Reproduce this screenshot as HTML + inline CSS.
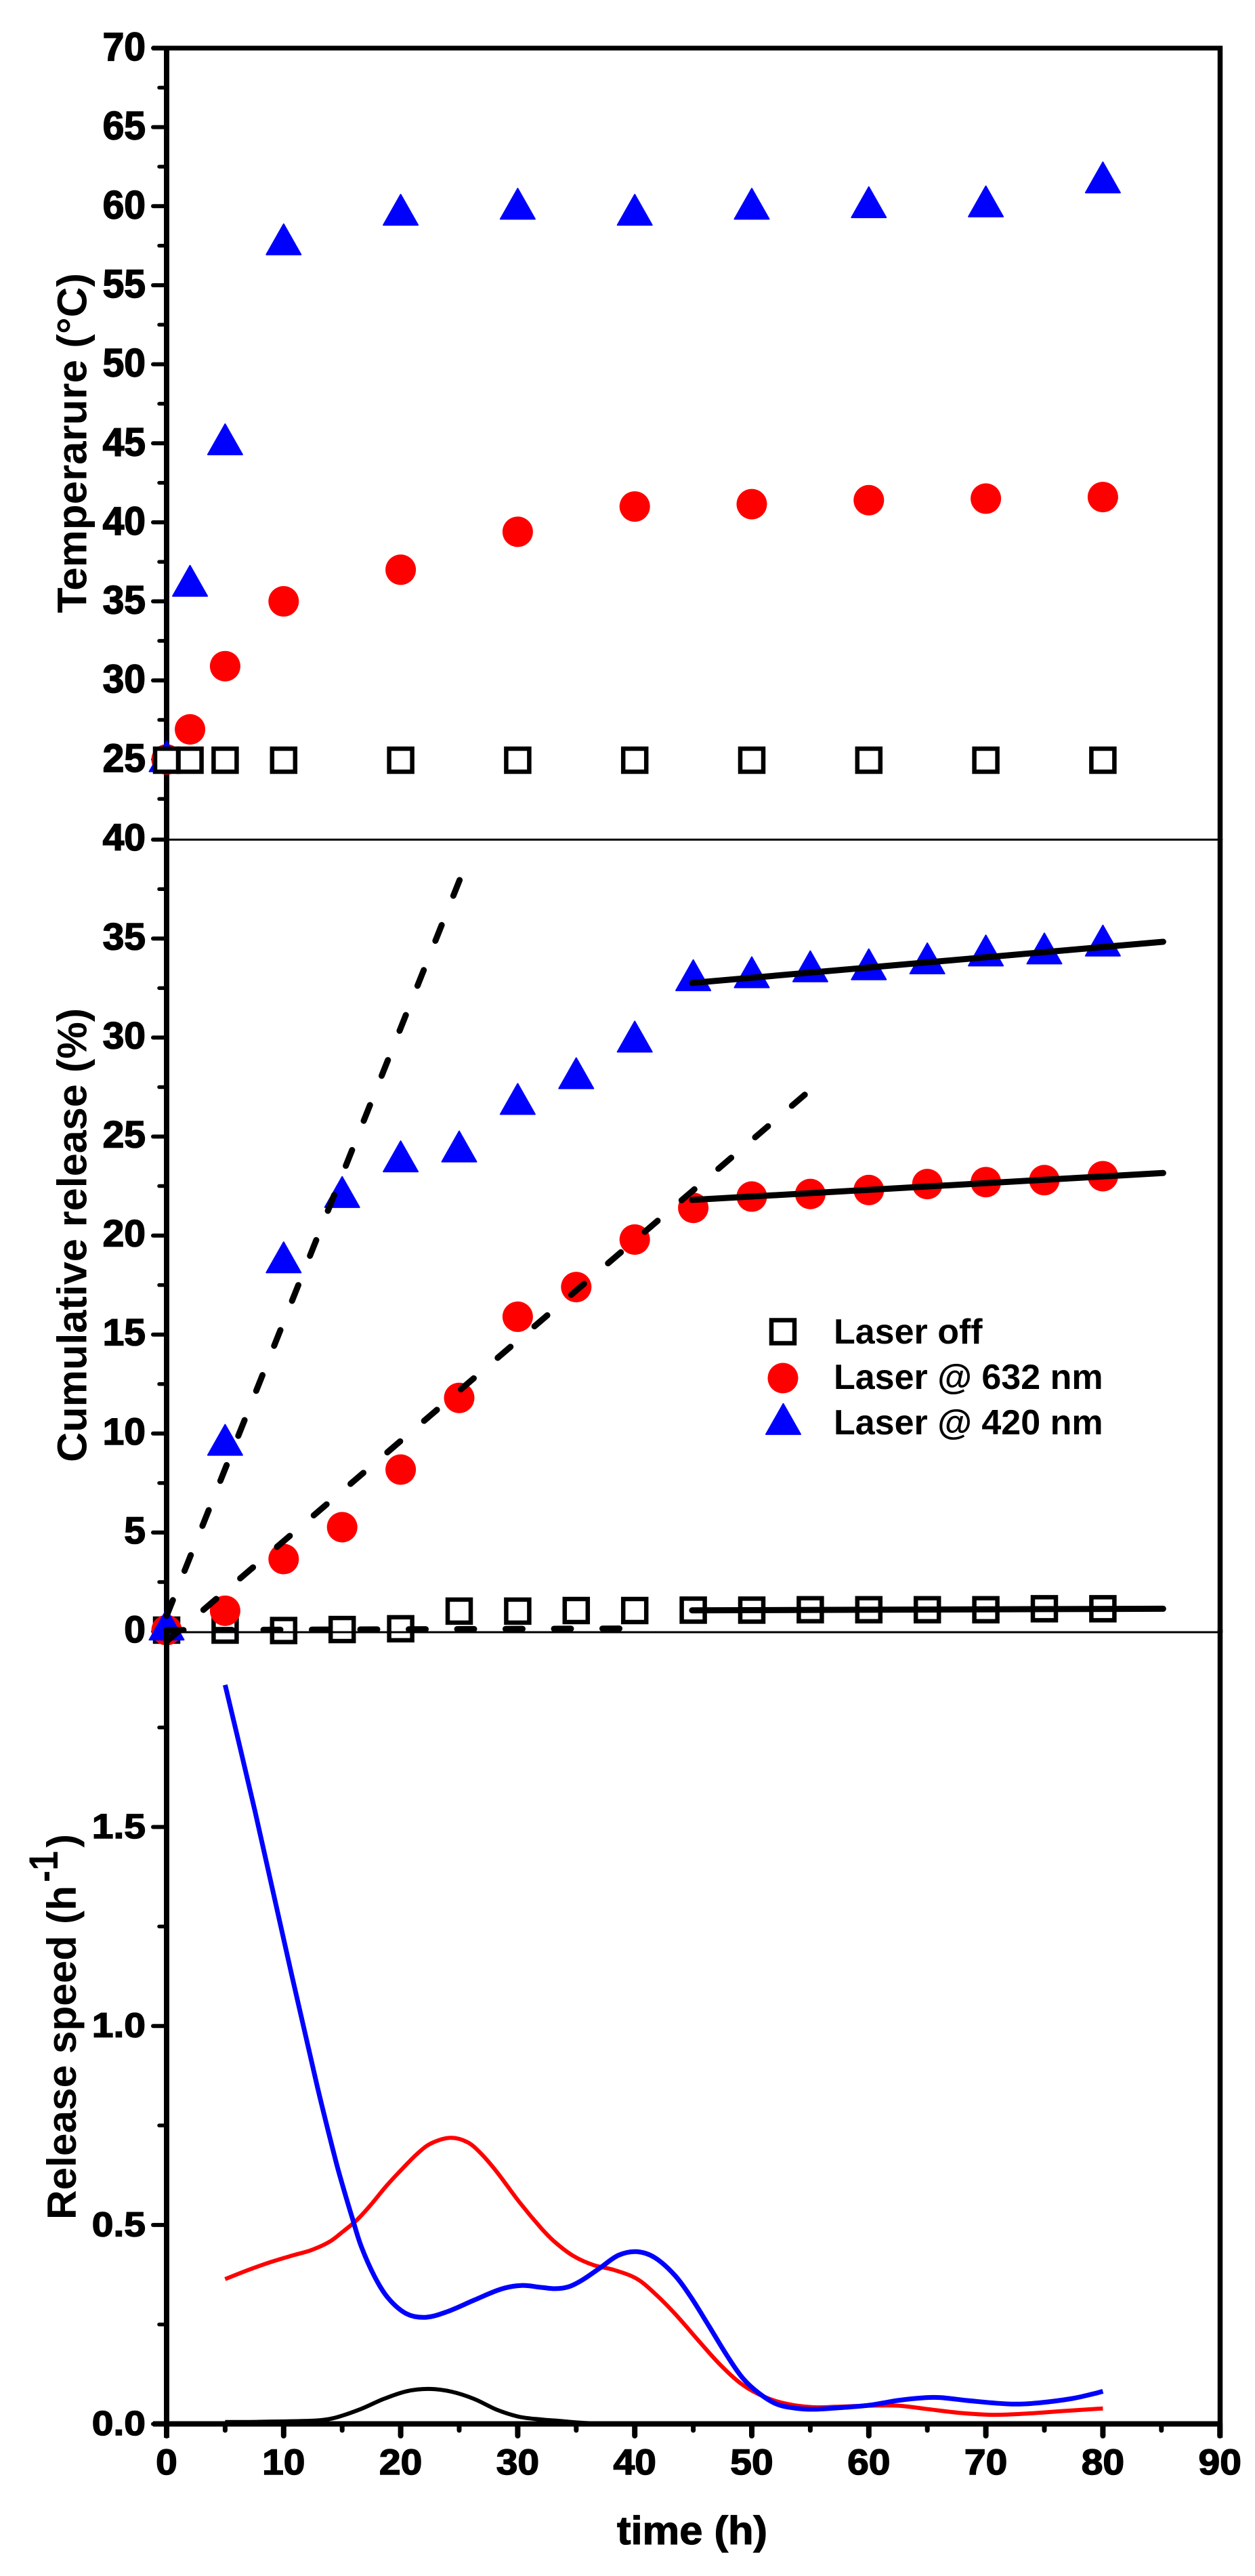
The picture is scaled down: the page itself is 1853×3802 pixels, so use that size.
<!DOCTYPE html>
<html lang="en">
<head>
<meta charset="utf-8">
<title>Temperature and release over time</title>
<style>
  html, body { margin: 0; padding: 0; background: #fff; }
  svg { display: block; }
  text { font-family: "Liberation Sans", Arial, sans-serif; font-weight: bold; fill: #000; }
</style>
</head>
<body>
<svg id="chart" xmlns="http://www.w3.org/2000/svg" width="1853" height="3802" viewBox="0 0 1853 3802">
  <rect x="0" y="0" width="1853" height="3802" fill="#fff"/>
  <text transform="translate(127.5,905) rotate(-90)" font-size="61" textLength="502" lengthAdjust="spacingAndGlyphs">Temperarure (°C)</text>
  <text transform="translate(127.5,2158) rotate(-90)" font-size="61" textLength="670" lengthAdjust="spacingAndGlyphs">Cumulative release (%)</text>
  <text transform="translate(112,3276) rotate(-90)" font-size="60" textLength="493" lengthAdjust="spacingAndGlyphs">Release speed (h</text>
  <text transform="translate(85,2778) rotate(-90)" font-size="60" textLength="46" lengthAdjust="spacingAndGlyphs">-1</text>
  <text transform="translate(112,2727) rotate(-90)" font-size="60" textLength="20" lengthAdjust="spacingAndGlyphs">)</text>
  <text x="911" y="3755" font-size="58" textLength="222" lengthAdjust="spacingAndGlyphs" stroke="#000" stroke-width="1.2">time (h)</text>
  <g id="panel-top"></g>
  <g id="panel-mid"></g>
  <g id="legend"></g>
  <g id="panel-bot"></g>
</svg>
<script>
// ---------- tick labels ----------
var xTickValues = [0, 10, 20, 30, 40, 50, 60, 70, 80, 90];
var xMinorValues = [5, 15, 25, 35, 45, 55, 65, 75, 85];
var tempTicks = [25, 30, 35, 40, 45, 50, 55, 60, 65, 70];
var tempMinor = [22.5, 27.5, 32.5, 37.5, 42.5, 47.5, 52.5, 57.5, 62.5, 67.5];
var cumTicks = [0, 5, 10, 15, 20, 25, 30, 35, 40];
var cumMinor = [2.5, 7.5, 12.5, 17.5, 22.5, 27.5, 32.5, 37.5];
var speedTicks = [0, 0.5, 1, 1.5];
var speedMinor = [0.25, 0.75, 1.25, 1.75];

// ---------- temperature panel ----------
var tempTimes = [0, 2, 5, 10, 20, 30, 40, 50, 60, 70, 80];
var tempLaserOff = [24.95, 24.95, 24.95, 24.95, 24.95, 24.95, 24.95, 24.95, 24.95, 24.95, 24.95];
var temp632 = [25, 26.9, 30.9, 35, 37, 39.4, 41, 41.15, 41.4, 41.5, 41.6];
var temp420 = [25.2, 36.3, 45.25, 57.9, 59.77, 60.15, 59.77, 60.15, 60.25, 60.3, 61.82];

// ---------- cumulative release panel ----------
var cumTimes = [0, 5, 10, 15, 20, 25, 30, 35, 40, 45, 50, 55, 60, 65, 70, 75, 80];
var cumLaserOff = [0.07, 0.07, 0.05, 0.1, 0.14, 1.03, 1.03, 1.06, 1.06, 1.08, 1.08, 1.1, 1.1, 1.1, 1.1, 1.15, 1.15];
var cum632 = [0.07, 1.05, 3.66, 5.27, 8.18, 11.8, 15.9, 17.4, 19.8, 21.4, 21.97, 22.1, 22.3, 22.6, 22.7, 22.8, 23];
var cum420 = [0.35, 9.68, 18.9, 22.2, 24, 24.5, 26.9, 28.2, 30.05, 33.15, 33.3, 33.6, 33.7, 34, 34.4, 34.5, 34.9];

var dashFitOffT = [0, 38.8];
var dashFitOffV = [0.07, 0.15];
var dashFit632T = [0, 54.7];
var dashFit632V = [-0.5, 27.2];
var dashFit420T = [0, 25.13];
var dashFit420V = [0.79, 38.1];
var solidFitT = [44.9, 85.15];
var solidFitOffV = [1.07, 1.15];
var solidFit632V = [21.8, 23.16];
var solidFit420V = [32.76, 34.84];

// ---------- release speed panel ----------
var speed420T = [5, 7.56, 10.75, 12.86, 14.51, 15.28, 15.86, 16.63, 17.78, 18.94, 20.49, 22.12, 23.96, 26.27, 28.59, 30.32, 32.06, 33.22, 34.38, 35.53, 37.08, 38.62, 40.16, 41.71, 43.44, 44.79, 46.34, 47.88, 49.23, 50.58, 52.12, 53.65, 55.2, 57.1, 60, 62.5, 64.85, 66.2, 68.7, 72.2, 74.5, 77.4, 79.5, 80];
var speed420V = [1.857, 1.539, 1.12, 0.85, 0.655, 0.575, 0.518, 0.446, 0.37, 0.316, 0.277, 0.268, 0.282, 0.311, 0.339, 0.348, 0.343, 0.34, 0.345, 0.362, 0.393, 0.424, 0.433, 0.418, 0.373, 0.319, 0.246, 0.172, 0.115, 0.078, 0.05, 0.04, 0.037, 0.04, 0.047, 0.059, 0.066, 0.066, 0.058, 0.05, 0.053, 0.064, 0.078, 0.082];
var speed632T = [5, 6.98, 8.91, 10.84, 12.38, 13.93, 15.09, 16.24, 17.4, 18.75, 20.1, 21.45, 22.6, 24.25, 25.7, 26.85, 28.2, 30.13, 32.06, 33.22, 34.76, 36.5, 38.23, 40.16, 41.71, 43.44, 45.37, 47.3, 49.23, 51.16, 53.08, 55.2, 57.1, 60, 62.5, 64.85, 67.75, 70.65, 73.5, 76.4, 79.5, 80];
var speed632V = [0.364, 0.387, 0.407, 0.424, 0.437, 0.458, 0.484, 0.512, 0.549, 0.597, 0.64, 0.68, 0.705, 0.719, 0.708, 0.68, 0.634, 0.558, 0.49, 0.456, 0.422, 0.399, 0.387, 0.365, 0.328, 0.277, 0.212, 0.149, 0.098, 0.067, 0.05, 0.042, 0.043, 0.046, 0.046, 0.038, 0.028, 0.023, 0.026, 0.032, 0.038, 0.039];
var speedOffT = [5, 7, 12.4, 13.6, 14.7, 16.63, 18.56, 20.49, 22.4, 24.35, 26.27, 28.2, 30.13, 32.06, 33.4, 36, 40, 50];
var speedOffV = [0.005, 0.005, 0.008, 0.011, 0.018, 0.038, 0.063, 0.082, 0.088, 0.081, 0.063, 0.036, 0.018, 0.011, 0.008, 0.002, 0, 0];

// ---------- legend ----------
var legendLabels = ["Laser off", "Laser @ 632 nm", "Laser @ 420 nm"];

// ---------- axis functions ----------
function xAt(t) { return 246 + 17.28 * t; }
function yTemp(v) { return 71 + (70 - v) * 23.33; }
function yCum(v) { return 2408 - 29.22 * v; }
function ySpeed(v) { return 3577.6 - 587.4 * v; }

var NS = "http://www.w3.org/2000/svg";
function make(tag, attrs, parent) {
  var el = document.createElementNS(NS, tag);
  for (var k in attrs) el.setAttribute(k, attrs[k]);
  parent.appendChild(el);
  return el;
}
function markSquare(parent, x, y) {
  return make("rect", { x: x - 17, y: y - 17, width: 34, height: 34, fill: "#fff", stroke: "#000", "stroke-width": 6.5 }, parent);
}
function markCircle(parent, x, y) {
  return make("circle", { cx: x, cy: y, r: 22.5, fill: "#ff0000" }, parent);
}
function markTriangle(parent, x, y) {
  var w = 51, h = 45;
  var pts = x + "," + (y - h / 2) + " " + (x - w / 2) + "," + (y + h / 2) + " " + (x + w / 2) + "," + (y + h / 2);
  return make("polygon", { points: pts, fill: "#0000ff", stroke: "#0000ff", "stroke-width": 2, "stroke-linejoin": "round" }, parent);
}
function lineEl(parent, x1, y1, x2, y2, w, cap) {
  return make("line", { x1: x1, y1: y1, x2: x2, y2: y2, stroke: "#000", "stroke-width": w, "stroke-linecap": cap || "butt" }, parent);
}
function smoothPath(ts, vs, yFn) {
  var p = ts.map(function (t, i) { return [xAt(t), yFn(vs[i])]; });
  function tangent(i) {
    var a = p[Math.max(i - 1, 0)], c = p[Math.min(i + 1, p.length - 1)];
    var dx = c[0] - a[0], dy = c[1] - a[1], n = Math.sqrt(dx * dx + dy * dy) || 1;
    return [dx / n, dy / n];
  }
  var d = "M" + p[0][0].toFixed(1) + " " + p[0][1].toFixed(1);
  for (var i = 0; i < p.length - 1; i++) {
    var b = p[i], c = p[i + 1];
    var len = Math.sqrt(Math.pow(c[0] - b[0], 2) + Math.pow(c[1] - b[1], 2)) / 3;
    var t0 = tangent(i), t1 = tangent(i + 1);
    d += " C" + (b[0] + t0[0] * len).toFixed(1) + " " + (b[1] + t0[1] * len).toFixed(1) +
         " " + (c[0] - t1[0] * len).toFixed(1) + " " + (c[1] - t1[1] * len).toFixed(1) +
         " " + c[0].toFixed(1) + " " + c[1].toFixed(1);
  }
  return d;
}
function yTicks(parent, majors, minors, yFn, fmt, sy, dy, prefix) {
  minors.forEach(function (v) {
    var m = lineEl(parent, 235, yFn(v), 246, yFn(v), 5.5, "round");
    
    
  });
  majors.forEach(function (v) {
    var y = yFn(v);
    var tick = lineEl(parent, 226, y, 246, y, 6, "round");
    
    
    var label = make("text", { transform: "translate(215," + (y + dy) + ") scale(1," + sy + ")", "font-size": 57, "text-anchor": "end", stroke: "#000", "stroke-width": 1.6 }, parent);
    label.textContent = fmt(v);
    
    
  });
}

// ---------- top panel ----------
var panelTop = document.getElementById("panel-top");
var a1 = lineEl(panelTop, 225, 71, 1805, 71, 7);


var a2 = lineEl(panelTop, 246, 68, 246, 1240, 8);


var a3 = lineEl(panelTop, 1801.5, 68, 1801.5, 1240, 7.5);


yTicks(panelTop, tempTicks, tempMinor, yTemp, String, 1.02, 18, 'temperature');
tempTimes.forEach(function (t, i) {
  var c = markCircle(panelTop, xAt(t), yTemp(temp632[i]));
  
  
});
tempTimes.forEach(function (t, i) {
  var c = markTriangle(panelTop, xAt(t), yTemp(temp420[i]));
  
  
});
tempTimes.forEach(function (t, i) {
  var c = markSquare(panelTop, xAt(t), yTemp(tempLaserOff[i]));
  
  
});

// ---------- middle panel ----------
var panelMid = document.getElementById("panel-mid");
var b1 = lineEl(panelMid, 246, yCum(40), 1801, yCum(40), 3);


var b2 = lineEl(panelMid, 246, 1238, 246, 2408, 8);


var b3 = lineEl(panelMid, 1801.5, 1238, 1801.5, 2410, 7.5);


yTicks(panelMid, cumTicks, cumMinor, yCum, String, 0.97, 16, 'cumulative');
cumTimes.forEach(function (t, i) {
  var c = markSquare(panelMid, xAt(t), yCum(cumLaserOff[i]));
  
  
});
cumTimes.forEach(function (t, i) {
  var c = markCircle(panelMid, xAt(t), yCum(cum632[i]));
  
  
});
cumTimes.forEach(function (t, i) {
  var c = markTriangle(panelMid, xAt(t), yCum(cum420[i]));
  
  
});
function dashed(ts, vs) {
  var l = lineEl(panelMid, xAt(ts[0]), yCum(vs[0]), xAt(ts[1]), yCum(vs[1]), 9, "round");
  l.setAttribute("stroke-dasharray", "25 46.5");
  return l;
}
var d1 = dashed(dashFitOffT, dashFitOffV);


var d2 = dashed(dashFit632T, dashFit632V);


var d3 = dashed(dashFit420T, dashFit420V);


var s1 = lineEl(panelMid, xAt(solidFitT[0]), yCum(solidFitOffV[0]), xAt(solidFitT[1]), yCum(solidFitOffV[1]), 9, "round");


var s2 = lineEl(panelMid, xAt(solidFitT[0]), yCum(solidFit632V[0]), xAt(solidFitT[1]), yCum(solidFit632V[1]), 9, "round");


var s3 = lineEl(panelMid, xAt(solidFitT[0]), yCum(solidFit420V[0]), xAt(solidFitT[1]), yCum(solidFit420V[1]), 9, "round");



// ---------- legend ----------
var panelLegend = document.getElementById("legend");
var legOff = markSquare(panelLegend, 1156, 1965.5);


var leg632 = markCircle(panelLegend, 1156, 2034);


var leg420 = markTriangle(panelLegend, 1156.5, 2094.4);


legendLabels.forEach(function (txt, i) {
  var t = make("text", { x: 1231, y: 1983 + i * 67, "font-size": 52 }, panelLegend);
  t.textContent = txt;
  
  
});

// ---------- bottom panel ----------
var panelBot = document.getElementById("panel-bot");
function curve(ts, vs, color, w) {
  return make("path", { d: smoothPath(ts, vs, ySpeed), fill: "none", stroke: color, "stroke-width": w, "stroke-linejoin": "round", "stroke-linecap": "butt" }, panelBot);
}
var cOff = curve(speedOffT, speedOffV, "#000", 6);


var c632 = curve(speed632T, speed632V, "#ff0000", 6);


var c420 = curve(speed420T, speed420V, "#0000ff", 7);


var e1 = lineEl(panelBot, 246, 2409, 1801, 2409, 3);


var e2 = lineEl(panelBot, 246, 2405, 246, 3598, 8, "butt");


var e3 = lineEl(panelBot, 1801.5, 2405, 1801.5, 3598, 7.5, "butt");


var e4 = lineEl(panelBot, 226, 3577.5, 1805, 3577.5, 8);


yTicks(panelBot, speedTicks, speedMinor, ySpeed, function (v) { return v.toFixed(1); }, 0.9, 16.5, 'speed');
xMinorValues.forEach(function (t) {
  var m = lineEl(panelBot, xAt(t), 3577.5, xAt(t), 3587, 7, "round");
  
  
});
xTickValues.forEach(function (t) {
  var m = lineEl(panelBot, xAt(t), 3577.5, xAt(t), 3595, 8, "round");
  
  
  var label = make("text", { transform: "translate(" + xAt(t) + ",3652) scale(1,0.93)", "font-size": 57, "text-anchor": "middle", stroke: "#000", "stroke-width": 1.6 }, panelBot);
  label.textContent = String(t);
  
  
});
</script>
</body>
</html>
